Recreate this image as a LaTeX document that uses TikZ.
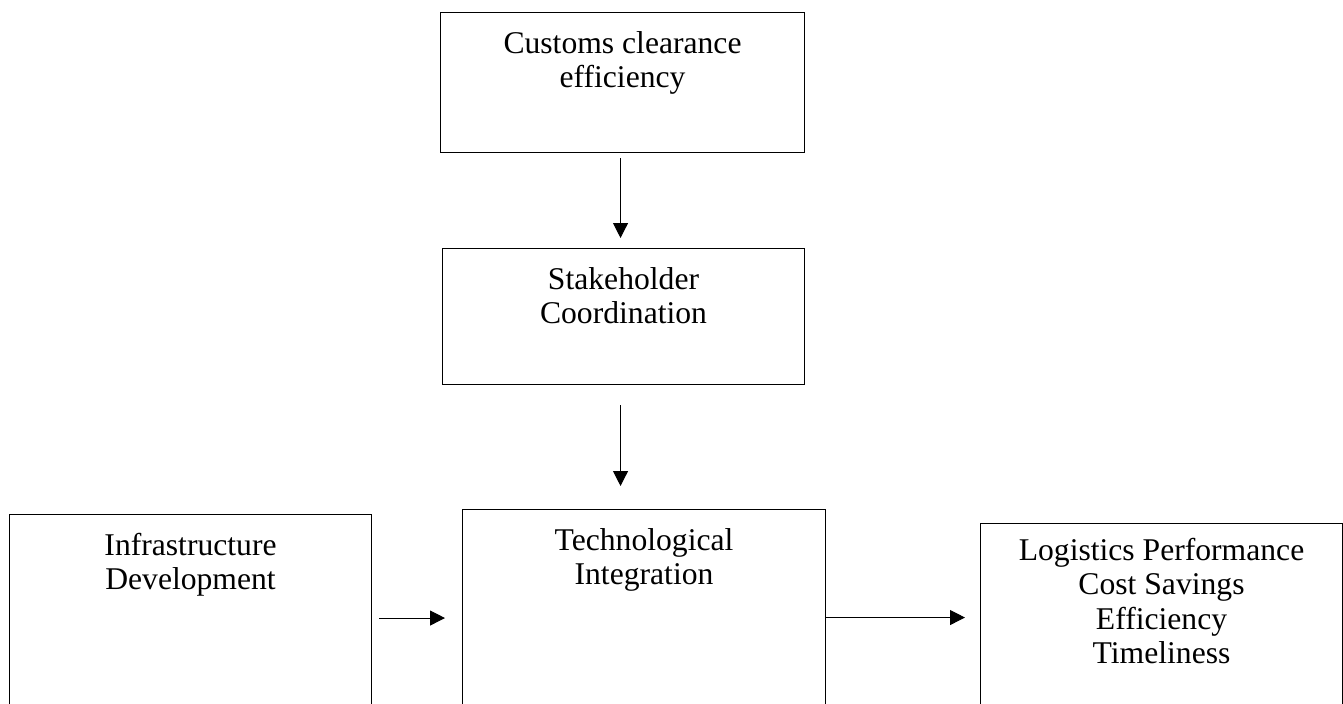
\documentclass[tikz,border=0pt]{standalone}
\usepackage{fontspec}
\setmainfont{Liberation Serif}
\usepackage{tikz}
\usetikzlibrary{arrows.meta, positioning}

\begin{document}
\begin{tikzpicture}[
    box/.style={draw, line width=0.6pt, inner sep=0pt, anchor=north west},
    txt/.style={anchor=north, align=center, inner sep=0pt, font=\fontsize{18}{19.5}\selectfont},
    arrow/.style={-{Triangle[length=0.3cm, width=0.3cm]}, line width=0.6pt}
]
    \useasboundingbox (0,0) rectangle (26.86,-14.08);
    \clip (0,0) rectangle (26.86,-14.08);
    \node[box, minimum width=7.28cm, minimum height=2.8cm] (customs) at (8.8,-0.24) {};
    \node[box, minimum width=7.24cm, minimum height=2.72cm] (stake) at (8.84,-4.96) {};
    \node[box, minimum width=7.24cm, minimum height=3.8cm] (infra) at (0.18,-10.28) {};
    \node[box, minimum width=7.26cm, minimum height=3.9cm] (tech) at (9.24,-10.18) {};
    \node[box, minimum width=7.24cm, minimum height=3.62cm] (logist) at (19.6,-10.46) {};

    \node[txt, below=0.38cm of customs.north] (customstxt) {Customs clearance\\efficiency};
    \node[txt, below=0.38cm of stake.north] (staketxt) {Stakeholder\\Coordination};
    \node[txt, below=0.38cm of infra.north] (infratxt) {Infrastructure\\Development};
    \node[txt, below=0.38cm of tech.north] (techtxt) {Technological\\Integration};
    \node[txt, below=0.3cm of logist.north] (logisttxt) {Logistics Performance\\Cost Savings\\Efficiency\\Timeliness};

    \draw[arrow, shorten <=0.1cm, shorten >=0.2cm] ([xshift=-0.04cm]customs.south) -- ([xshift=-0.04cm]customs.south |- stake.north);
    \draw[arrow, shorten <=0.4cm, shorten >=0.46cm] ([xshift=-0.04cm]customs.south |- stake.south) -- ([xshift=-0.04cm]customs.south |- tech.north);
    \draw[arrow, shorten <=0.14cm, shorten >=0.34cm] ([yshift=-0.17cm]infra.east) -- ([yshift=-0.17cm]infra.east -| tech.west);
    \draw[arrow, shorten >=0.3cm] ([yshift=-0.21cm]tech.east) -- ([yshift=-0.21cm]tech.east -| logist.west);
\end{tikzpicture}
\end{document}
